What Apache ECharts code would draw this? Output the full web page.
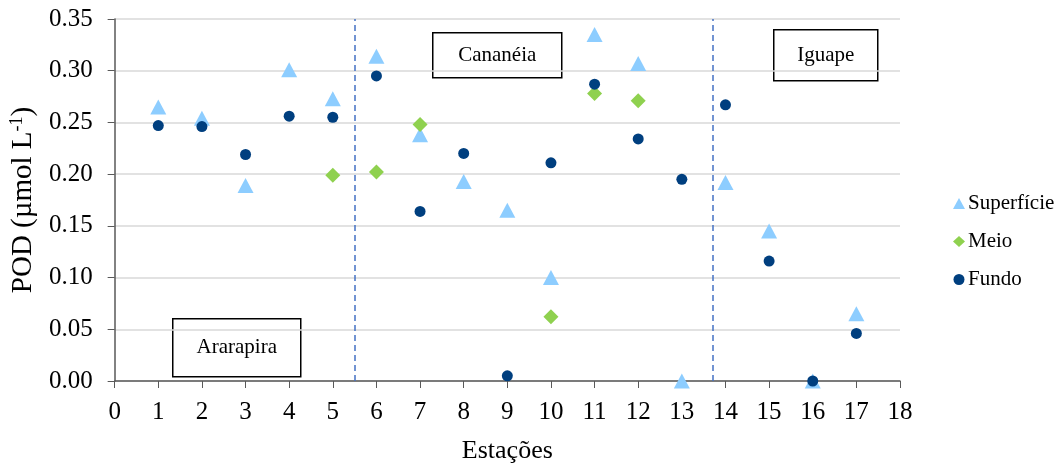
<!DOCTYPE html>
<html><head><meta charset="utf-8">
<script src="https://cdn.jsdelivr.net/npm/echarts@6/dist/echarts.min.js"></script>
<style>html,body{margin:0;padding:0;background:#fff}#c{width:1064px;height:469px}</style>
</head><body><div id="c"></div>
<script>
const stations = [1,2,3,4,5,6,7,8,9,10,11,12,13,14,15,16,17];
const superficie = [0.265,0.254,0.189,0.301,0.273,0.314,0.238,0.193,0.165,0.100,0.335,0.307,0.000,0.192,0.145,0.000,0.065];
const meio = [null,null,null,null,0.199,0.202,0.248,null,null,0.062,0.278,0.271,null,null,null,null,null];
const fundo = [0.247,0.246,0.219,0.256,0.255,0.295,0.164,0.220,0.005,0.211,0.287,0.234,0.195,0.267,0.116,0.000,0.046];
const dividers = [5.5, 13.7];
const regionNames = ['Ararapira','Cananéia','Iguape'];
const seriesNames = ['Superfície','Meio','Fundo'];

const pairs = arr => stations.map((s,i)=>[s,arr[i]]).filter(p=>p[1]!==null);
const font = '"Liberation Serif","Times New Roman",serif';
const chart = echarts.init(document.getElementById('c'));

function box(x,y,w,h,label){
  return {type:'group',left:x,top:y,children:[
    {type:'rect',shape:{x:0,y:0,width:w,height:h},style:{fill:'#fff',stroke:'#000',lineWidth:1.5}},
    {type:'text',x:w/2,y:h/2,style:{text:label,font:'21px '+font,fill:'#000',align:'center',verticalAlign:'middle'}}
  ]};
}

chart.setOption({
  animation:false,
  backgroundColor:'#fff',
  grid:{left:114,right:164,top:19,bottom:88},
  xAxis:{type:'value',min:0,max:18,interval:1,
    name:'Estações',nameLocation:'middle',nameGap:57,
    nameTextStyle:{fontFamily:font,fontSize:26,color:'#000'},
    axisLine:{onZero:false,lineStyle:{color:'#595959',width:1.5}},
    axisTick:{show:true,length:7,lineStyle:{color:'#595959'}},
    axisLabel:{fontFamily:font,fontSize:25,color:'#000',margin:19},
    splitLine:{show:false}},
  yAxis:{type:'value',min:0,max:0.35,interval:0.05,
    name:'{a|POD (µmol L}{s|-1}{a|)}',nameLocation:'middle',nameGap:74,nameRotate:90,
    nameTextStyle:{rich:{a:{fontFamily:font,fontSize:29,color:'#000'},s:{fontFamily:font,fontSize:18,color:'#000',verticalAlign:'top',padding:[0,0,13,0]}}},
    axisLine:{show:true,lineStyle:{color:'#595959',width:1.5}},
    axisTick:{show:true,length:7,lineStyle:{color:'#595959'}},
    axisLabel:{fontFamily:font,fontSize:25,color:'#000',margin:22,formatter:v=>v.toFixed(2)},
    splitLine:{lineStyle:{color:'#d9d9d9',width:1.5}}},
  legend:{orient:'vertical',left:948,top:188,itemGap:17,itemWidth:12,itemHeight:11,
    textStyle:{fontFamily:font,fontSize:21,color:'#000',padding:[0,0,0,-2]},
    data:[{name:seriesNames[0],icon:'triangle'},{name:seriesNames[1],icon:'diamond'},{name:seriesNames[2],icon:'circle'}]},
  graphic:[box(172,318,128,58,regionNames[0]),box(432,32,129,45,regionNames[1]),box(773,29,104,51,regionNames[2])],
  series:[
    {name:seriesNames[0],type:'scatter',symbol:'triangle',symbolSize:[16,15],itemStyle:{color:'#8DCDFF',opacity:1},data:pairs(superficie),z:3,
      markLine:{silent:true,symbol:'none',label:{show:false},lineStyle:{type:[6,4],color:'#4472C4',width:1.5},data:dividers.map(d=>({xAxis:d}))}},
    {name:seriesNames[1],type:'scatter',symbol:'diamond',symbolSize:15,itemStyle:{color:'#8FD14F',opacity:1},data:pairs(meio),z:4},
    {name:seriesNames[2],type:'scatter',symbol:'circle',symbolSize:11,itemStyle:{color:'#003F7F',opacity:1},data:pairs(fundo),z:5}
  ]
});
</script></body></html>
